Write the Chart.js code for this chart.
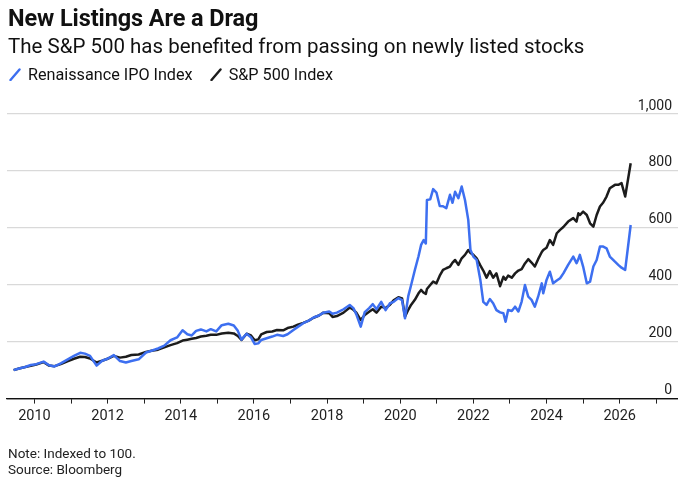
<!DOCTYPE html>
<html>
<head>
<meta charset="utf-8">
<script src="https://cdn.jsdelivr.net/npm/chart.js@4.4.1/dist/chart.umd.min.js"></script>
<style>
  html, body { margin: 0; padding: 0; background: #fff; }
  body { width: 680px; height: 483px; position: relative; overflow: hidden; font-family: Roboto, "Noto Sans", sans-serif; color: #111; }
  #chartWrap { position: absolute; left: 0; top: 0; width: 680px; height: 483px; }
  .txt { position: absolute; left: 8px; white-space: nowrap; }
  #title { top: 4px; font-size: 23.5px; font-weight: 700; line-height: 28px; letter-spacing: -0.1px; }
  #subtitle { top: 34px; font-size: 20.5px; line-height: 24px; color: #111; }
  #legend { top: 64.5px; left: 9px; font-size: 16.2px; line-height: 20px; display: flex; align-items: center; }
  .lg { display: flex; align-items: center; margin-right: 17px; }
  .lg svg { margin-right: 7px; }
  .foot { font-size: 13.5px; line-height: 16px; color: #222; }
</style>
</head>
<body>
<div id="chartWrap"><canvas id="c" width="680" height="483"></canvas></div>
<div class="txt" id="title">New Listings Are a Drag</div>
<div class="txt" id="subtitle">The S&amp;P 500 has benefited from passing on newly listed stocks</div>
<div class="txt" id="legend">
  <span class="lg"><svg width="12" height="13"><line x1="1.5" y1="12" x2="10.5" y2="1.5" stroke="#3d6ff0" stroke-width="2.4" stroke-linecap="round"/></svg>Renaissance IPO Index</span>
  <span class="lg"><svg width="12" height="13"><line x1="1.5" y1="12" x2="10.5" y2="1.5" stroke="#1c1c1c" stroke-width="2.4" stroke-linecap="round"/></svg>S&amp;P 500 Index</span>
</div>
<div class="txt foot" style="top:445px">Note: Indexed to 100.</div>
<div class="txt foot" style="top:461px">Source: Bloomberg</div>
<script>
// ---- data (decimal years) ----
const dates = [
  2009.43,2009.58,2009.75,2009.9,2010.05,2010.25,2010.4,2010.55,2010.72,2010.9,
  2011.08,2011.25,2011.38,2011.52,2011.7,2011.85,2012.0,2012.17,2012.34,2012.5,
  2012.65,2012.85,2013.05,2013.2,2013.38,2013.55,2013.72,2013.9,2014.05,2014.18,
  2014.3,2014.42,2014.55,2014.7,2014.82,2014.97,2015.12,2015.3,2015.45,2015.56,
  2015.66,2015.8,2015.92,2016.02,2016.12,2016.2,2016.35,2016.5,2016.63,2016.8,
  2016.92,2017.08,2017.2,2017.35,2017.5,2017.63,2017.78,2017.9,2018.06,2018.15,
  2018.27,2018.45,2018.62,2018.72,2018.8,2018.92,2019.03,2019.15,2019.25,2019.35,
  2019.48,2019.6,2019.72,2019.82,2019.95,2020.05,2020.13,2020.22,2020.3,2020.4,
  2020.5,2020.57,2020.64,2020.7,2020.73,2020.82,2020.9,2020.99,2021.08,2021.17,
  2021.26,2021.36,2021.43,2021.5,2021.59,2021.68,2021.77,2021.86,2021.92,2022.0,
  2022.09,2022.19,2022.27,2022.36,2022.45,2022.54,2022.63,2022.73,2022.82,2022.88,
  2022.95,2023.05,2023.14,2023.23,2023.32,2023.41,2023.5,2023.59,2023.68,2023.77,
  2023.87,2023.91,2024.0,2024.09,2024.18,2024.28,2024.37,2024.46,2024.59,2024.73,
  2024.82,2024.87,2024.91,2025.0,2025.1,2025.19,2025.28,2025.37,2025.46,2025.55,
  2025.64,2025.73,2025.87,2025.96,2026.05,2026.15,2026.3
];
const ipoIndex = [
  100,106,111,118,121,130,117,113,124,137,
  150,161,158,150,116,133,140,153,132,127,
  132,138,162,168,176,186,205,215,240,226,
  222,238,243,236,244,236,258,263,257,238,
  207,228,215,192,194,206,212,218,224,220,
  226,241,252,265,274,285,292,302,306,298,
  302,314,329,318,296,253,304,318,332,314,
  340,311,335,340,353,346,282,360,400,452,
  500,540,557,545,698,700,736,724,677,676,
  669,716,688,727,704,745,698,628,522,499,
  487,417,340,329,350,335,311,303,300,270,
  311,308,323,306,341,399,358,347,323,358,
  405,370,417,446,405,415,423,440,470,499,
  476,490,505,464,405,411,464,487,534,534,
  528,499,481,470,460,452,610
];
const spxIndex = [
  100,106,111,115,120,128,116,114,121,131,
  140,147,146,141,127,133,140,150,144,147,
  153,155,164,168,172,180,188,195,204,207,
  210,213,218,221,224,224,229,231,229,220,
  206,228,222,205,208,226,234,236,241,240,
  248,253,260,266,274,284,292,302,300,287,
  290,302,320,312,302,276,294,305,314,302,
  323,318,330,345,356,352,288,312,330,347,
  370,382,372,368,385,399,411,405,432,452,
  458,464,478,487,470,493,505,522,512,505,
  493,468,450,425,448,425,440,395,428,418,
  432,425,440,450,455,475,490,478,464,490,
  515,522,530,557,540,581,593,603,622,634,
  622,651,645,657,645,616,604,645,675,689,
  710,739,751,751,757,710,827
];
const yTicks = [0, 200, 400, 600, 800, 1000];
const xTickYears = [2010,2011,2012,2013,2014,2015,2016,2017,2018,2019,2020,2021,2022,2023,2024,2025,2026,2027];
const seriesNames = ['Renaissance IPO Index', 'S&P 500 Index'];

const toPts = arr => arr.map((v, i) => ({ x: dates[i], y: v }));

new Chart(document.getElementById('c'), {
  type: 'line',
  data: {
    datasets: [
      { label: seriesNames[0], data: toPts(ipoIndex), borderColor: '#3d6ff0', borderWidth: 2.5, pointRadius: 0, tension: 0, borderJoinStyle: 'round' },
      { label: seriesNames[1], data: toPts(spxIndex), borderColor: '#1c1c1c', borderWidth: 2.5, pointRadius: 0, tension: 0, borderJoinStyle: 'round' }
    ]
  },
  options: {
    responsive: false,
    animation: false,
    events: [],
    layout: { padding: { left: 7, right: 2.5, top: 114, bottom: 0 } },
    plugins: { legend: { display: false }, tooltip: { enabled: false } },
    scales: {
      x: {
        type: 'linear',
        min: 2009.25,
        max: 2027.58,
        afterFit: s => { s.height = 84.4; },
        afterBuildTicks: s => { s.ticks = xTickYears.map(v => ({ value: v })); },
        ticks: {
          autoSkip: false, maxRotation: 0, includeBounds: false, padding: 4,
          color: '#222', font: { family: 'Roboto', size: 14.5 },
          callback: v => (v % 2 === 0 ? String(v) : '')
        },
        grid: { drawOnChartArea: false, drawTicks: true, tickLength: 5, color: '#222', lineWidth: 1 },
        border: { display: true, color: '#111', width: 1.2 }
      },
      y: {
        position: 'right',
        min: 0,
        max: 1000,
        afterFit: s => { s.width = 0; },
        afterBuildTicks: s => { s.ticks = yTicks.map(v => ({ value: v })); },
        ticks: {
          mirror: true, padding: -5.5, labelOffset: -8,
          color: '#222', font: { family: 'Roboto', size: 14 },
          callback: v => v.toLocaleString('en-US')
        },
        grid: {
          drawTicks: false,
          color: c => (c.tick && c.tick.value === 0 ? '#111' : '#d9d9d9'),
          lineWidth: 1.2
        },
        border: { display: false }
      }
    }
  }
});
</script>
</body>
</html>
